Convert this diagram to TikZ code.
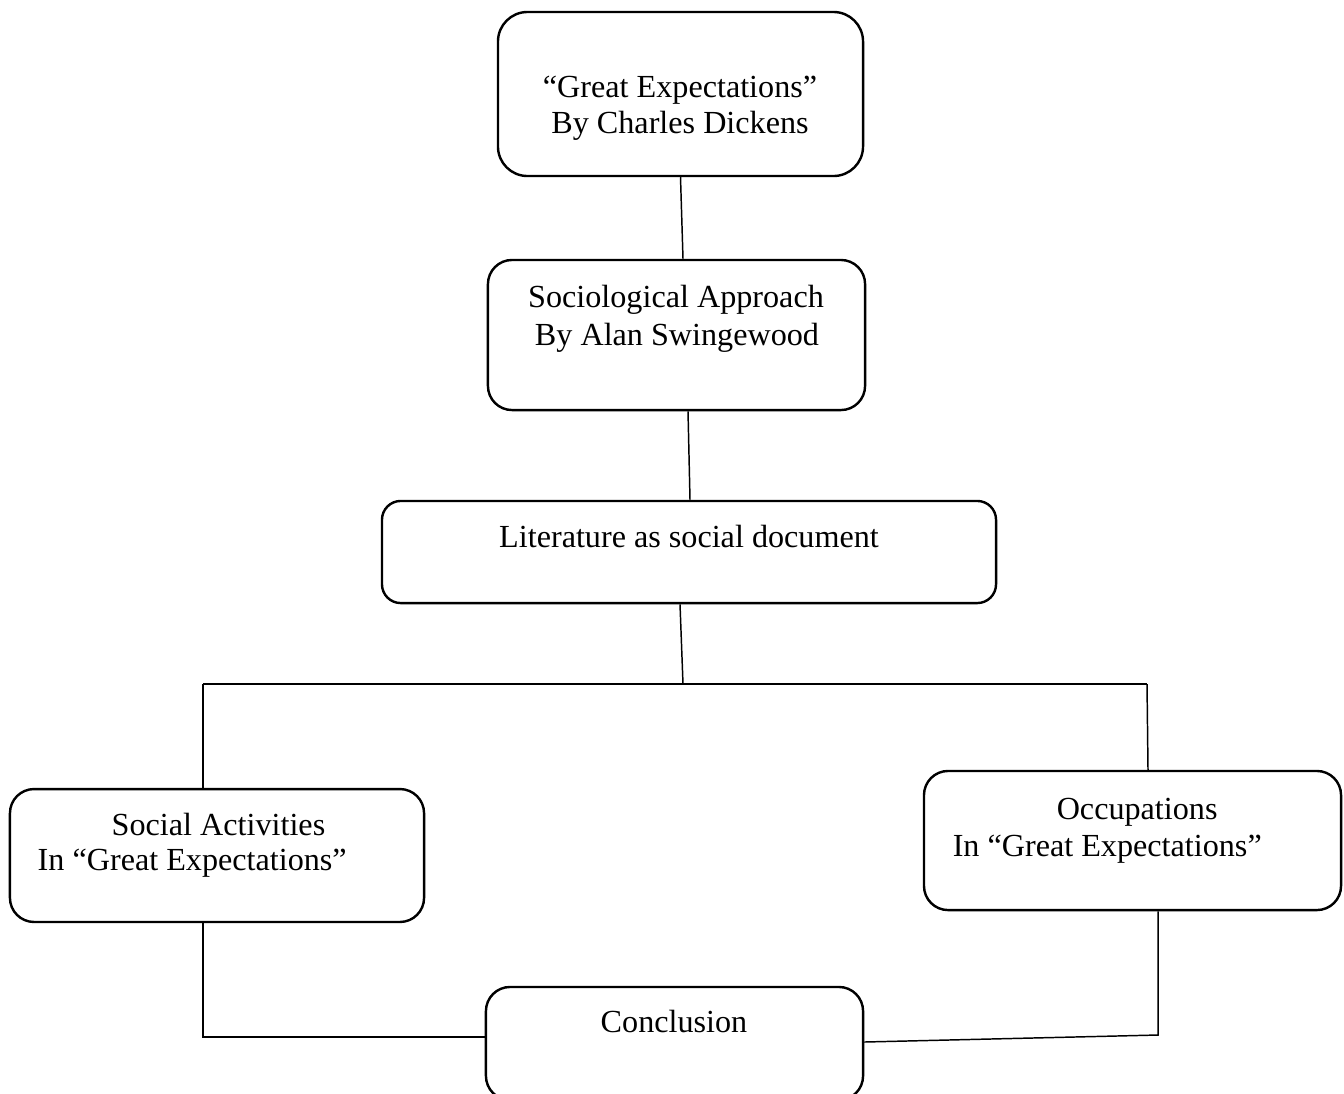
\documentclass[tikz,border=0pt]{standalone}
\usepackage{fontspec}
\setmainfont{Liberation Serif}
\usetikzlibrary{calc}
\begin{document}
\begin{tikzpicture}[x=0.3731pt, y=-0.3731pt, line width=0.55pt,
    box/.style={draw, line width=0.9pt, rounded corners=7pt, inner sep=0pt},
    txt/.style={font=\fontsize{12}{14}\selectfont, inner sep=0pt, anchor=base}]

    \clip (0,0) rectangle (1344,1093);

    % boxes
    \node[box, rounded corners=11pt, minimum width=136.2pt, minimum height=61.2pt] (GE) at (680.5,94) {};
    \node[box, rounded corners=9pt, minimum width=140.7pt, minimum height=56pt] (SA) at (676.5,335) {};
    \node[box, minimum width=229.1pt, minimum height=38.1pt] (LD) at (689,552) {};
    \node[box, rounded corners=9pt, minimum width=154.5pt, minimum height=49.6pt] (SC) at (217,855.5) {};
    \node[box, rounded corners=9pt, minimum width=155.6pt, minimum height=51.9pt] (OC) at (1132.5,840.5) {};
    \node[box, rounded corners=9pt, minimum width=140.7pt, minimum height=42.2pt] (CO) at (674.5,1043.5) {};

    % texts
    \node[txt] (GE1) at (680,97) {“Great Expectations”};
    \node[txt] (GE2) at (680,133) {By Charles Dickens};
    \node[txt] (SA1) at (676,307) {Sociological Approach};
    \node[txt] (SA2) at (677,345) {By Alan Swingewood};
    \node[txt] (LD1) at (689,547) {Literature as social document};
    \node[txt, anchor=base west] (SC1) at (111,835) {Social Activities};
    \node[txt, anchor=base west] (SC2) at (37,870) {In “Great Expectations”};
    \node[txt, anchor=base west] (OC1) at (1056,819) {Occupations};
    \node[txt, anchor=base west] (OC2) at (952,856) {In “Great Expectations”};
    \node[txt] (CO1) at (674,1032) {Conclusion};

    % bus and corners
    \coordinate (L) at (203,684);
    \coordinate (M) at (683,684);
    \coordinate (R) at (1147,684);
    \coordinate (LC) at (203,1037);
    \coordinate (RC) at (1158,1035);

    \draw[-] (GE.south) -- ($(SA.north)+(6.5,0)$);
    \draw[-] ($(SA.south)+(11.5,0)$) -- ($(LD.north)+(1,0)$);
    \draw[-] ($(LD.south)+(-9,0)$) -- (M);
    \draw[-, line width=0.75pt] (L) -- (R);
    \draw[-] (L) -- (SC.north -| L);
    \draw[-] (R) -- ($(OC.north)+(15.5,0)$);
    \draw[-] (SC.south -| L) -- (LC) -- (CO.west |- LC);
    \draw[-] (OC.south -| RC) -- (RC) -- ($(CO.east)+(0,-1.5)$);

\end{tikzpicture}
\end{document}
